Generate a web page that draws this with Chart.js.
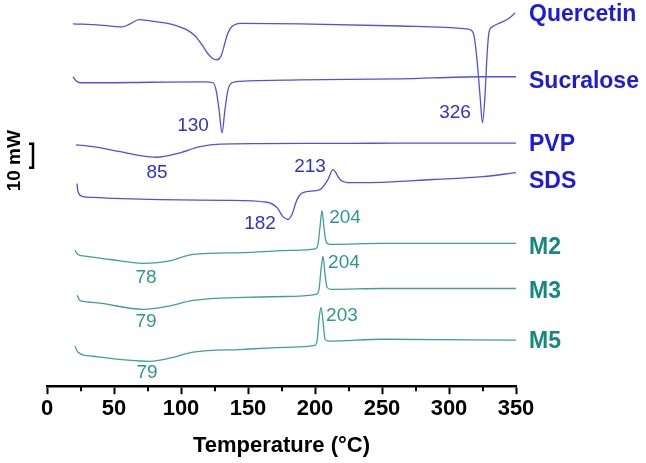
<!DOCTYPE html>
<html>
<head>
<meta charset="utf-8">
<script src="https://cdn.jsdelivr.net/npm/chart.js@4.4.0/dist/chart.umd.min.js"></script>
<style>
  body { margin: 0; background: #fff; }
  canvas { display: block; }
</style>
</head>
<body>
<canvas id="dsc" width="646" height="463"></canvas>
<script>
// DSC thermograms, stacked (heat flow in mW incl. vertical offset)
const seriesNames = ['Quercetin', 'Sucralose', 'PVP', 'SDS', 'M2', 'M3', 'M5'];

const quercetinT = [19.4,39.6,56,62,68.7,76.9,88,97,104.5,110.4,115.7,120.1,123.9,126.9,129.9,132,134.3,136.6,139.6,144,188.8,263.4,312.7,315.7,318.7,320.9,323.1,325,326.9,328.4,329.9,332.1,338.1,344,349.3];
const quercetinHF = [151.3,150.8,150,151.3,153.1,152.5,151.7,150.4,148.8,146.3,142.5,138.8,136.7,136.3,137.9,141.7,146.3,149.2,150.8,151.5,151.3,150.4,149.2,148.8,146.3,136.3,121.7,110,121.7,138.3,147.9,150,151.7,153.3,155.8];

const sucraloseT = [19.4,21.6,24.6,39.6,76.9,117.9,123.9,126.1,128.4,130.6,132.8,135.1,138.1,144,188.8,263.4,323.1,350];
const sucraloseHF = [129.2,127.5,126.7,126.7,126.9,127.1,126.7,123.8,115.4,105.8,115.4,123.8,126.7,127.3,127.9,128.3,129.2,129.2];

const pvpT = [21.6,34.3,54.5,69.4,82.1,97,114.2,129.1,159,226.1,263.4,350];
const pvpHF = [100.8,100,97.9,96.3,95.6,97.1,100,101.1,101.3,101.4,101.5,101.5];

const sdsT = [22.4,23.1,26.9,34.3,84.3,134.3,164.2,171.6,176.1,179.9,182.8,186.6,191,203.7,209.7,213.4,218.7,223.9,238.8,288.1,325.4,350];
const sdsHF = [84.6,81.3,79.2,78.8,77.9,77.6,76.8,74.6,70.8,69.6,71.7,77.9,80.8,82.1,86.3,90.4,86.3,85,85,86.3,87.5,89.2];

const m2T = [20.9,23.1,29.9,47,71.6,89.6,109,146.3,183.6,200,202.2,203.7,205.2,206.7,208.2,211.2,250.7,350];
const m2HF = [56.7,55,54.2,52.9,51.3,52.1,55,55.8,56.7,57.3,59.2,66.3,73.3,66.3,60.4,59.2,59.6,59.6];

const m3T = [22.4,24.6,34.3,71.6,89.6,109,146.3,183.6,200.7,203,204.5,206,207.5,209,211.9,250.7,350];
const m3HF = [37.9,35.8,35,32.1,33.3,35.8,37.1,37.5,38.3,40.4,48.8,54.2,46.7,41.3,40.4,40.8,40.8];

const m5T = [20.9,23.1,34.3,76.9,91.8,109,146.3,183.6,199.3,201.5,203,204.5,206,207.5,210.4,250.7,350];
const m5HF = [16.7,14.2,12.5,10.4,11.7,14.2,15.4,16.3,16.9,18.8,27.9,32.9,27.1,19.6,18.8,19.6,19.2];

// peak temperature labels
const peakText = ['130','326','85','213','182','78','204','79','204','79','203'];
const peakT = [109,304.5,82.1,196.3,159,73.9,222.4,73.9,221.6,74.6,220.1];
const peakHF = [108.8,114.2,89.2,91.7,67.9,45.4,70.4,26.7,51.7,5.8,29.6];
const peakTeal = [false,false,false,false,false,true,true,true,true,true,true];

// curve names on the right
const nameT = 359.7;
const nameHF = [155,127.1,100.8,85.4,57.9,39.6,18.75];

// 10 mW scale bar
const barHF = [91.25, 101.25];

const xTicks = [0,50,100,150,200,250,300,350];
const xMinor = [25,75,125,175,225,275,325];

const BLUE_LINE = '#5050e2';
const BLUE_TEXT = '#1c1cd8';
const BLUE_NUM = '#3232c8';
const TEAL_LINE = '#3e9f9b';
const TEAL_TEXT = '#17877f';
const TEAL_NUM = '#2e9690';
const FONT = '"Liberation Sans", Arial, sans-serif';

const curves = [
  [quercetinT, quercetinHF], [sucraloseT, sucraloseHF], [pvpT, pvpHF], [sdsT, sdsHF],
  [m2T, m2HF], [m3T, m3HF], [m5T, m5HF]
];

const datasets = curves.map((c, i) => ({
  label: seriesNames[i],
  data: c[0].map((t, k) => ({x: t, y: c[1][k]})),
  borderColor: i < 4 ? BLUE_LINE : TEAL_LINE,
  borderWidth: 1.3,
  pointRadius: 0,
  fill: false,
  cubicInterpolationMode: 'monotone',
  clip: false
}));

// labels, minor ticks and scale bar
const extras = {
  id: 'extras',
  afterDraw(chart) {
    const ctx = chart.ctx;
    const xs = chart.scales.x, ys = chart.scales.y;
    const area = chart.chartArea;
    ctx.save();

    // minor ticks
    ctx.strokeStyle = '#000';
    ctx.lineWidth = 2;
    xMinor.forEach(v => {
      const px = Math.round(xs.getPixelForValue(v));
      ctx.beginPath();
      ctx.moveTo(px, area.bottom);
      ctx.lineTo(px, area.bottom + 5);
      ctx.stroke();
    });

    // peak numbers
    ctx.textAlign = 'center';
    ctx.textBaseline = 'middle';
    ctx.font = '19px ' + FONT;
    peakText.forEach((s, i) => {
      ctx.fillStyle = peakTeal[i] ? TEAL_NUM : BLUE_NUM;
      ctx.fillText(s, xs.getPixelForValue(peakT[i]), ys.getPixelForValue(peakHF[i]));
    });

    // series names
    ctx.textAlign = 'left';
    ctx.font = 'bold 23px ' + FONT;
    seriesNames.forEach((s, i) => {
      ctx.fillStyle = i < 4 ? BLUE_TEXT : TEAL_TEXT;
      ctx.fillText(s, xs.getPixelForValue(nameT), ys.getPixelForValue(nameHF[i]));
    });

    // scale bar
    const y1 = ys.getPixelForValue(barHF[1]);
    const y2 = ys.getPixelForValue(barHF[0]);
    const bx = area.left - 14;
    ctx.strokeStyle = '#000';
    ctx.lineWidth = 2.5;
    ctx.beginPath();
    ctx.moveTo(bx - 4, y1);
    ctx.lineTo(bx, y1);
    ctx.lineTo(bx, y2);
    ctx.lineTo(bx - 4, y2);
    ctx.stroke();

    ctx.translate(15, (y1 + y2) / 2 + 5);
    ctx.rotate(-Math.PI / 2);
    ctx.textAlign = 'center';
    ctx.fillStyle = '#000';
    ctx.font = 'bold 19px ' + FONT;
    ctx.fillText('10 mW', 0, 0);
    ctx.restore();
  }
};

new Chart(document.getElementById('dsc').getContext('2d'), {
  type: 'line',
  data: { datasets },
  options: {
    responsive: false,
    animation: false,
    devicePixelRatio: 1,
    layout: { padding: { left: 47, right: 130, top: 3, bottom: 4 } },
    plugins: { legend: { display: false }, tooltip: { enabled: false } },
    scales: {
      x: {
        type: 'linear',
        min: 0, max: 350,
        afterBuildTicks: s => { s.ticks = xTicks.map(v => ({value: v})); },
        grid: { drawOnChartArea: false, tickLength: 8, tickWidth: 2, tickColor: '#000' },
        border: { color: '#000', width: 2.5 },
        ticks: { color: '#000', padding: 2, font: { family: FONT, size: 22, weight: 'bold' } },
        title: {
          display: true,
          text: 'Temperature (°C)',
          color: '#000',
          padding: { top: 8, bottom: 0 },
          font: { family: FONT, size: 22, weight: 'bold' }
        }
      },
      y: { type: 'linear', min: 0, max: 160, display: false }
    }
  },
  plugins: [extras]
});
</script>
</body>
</html>
